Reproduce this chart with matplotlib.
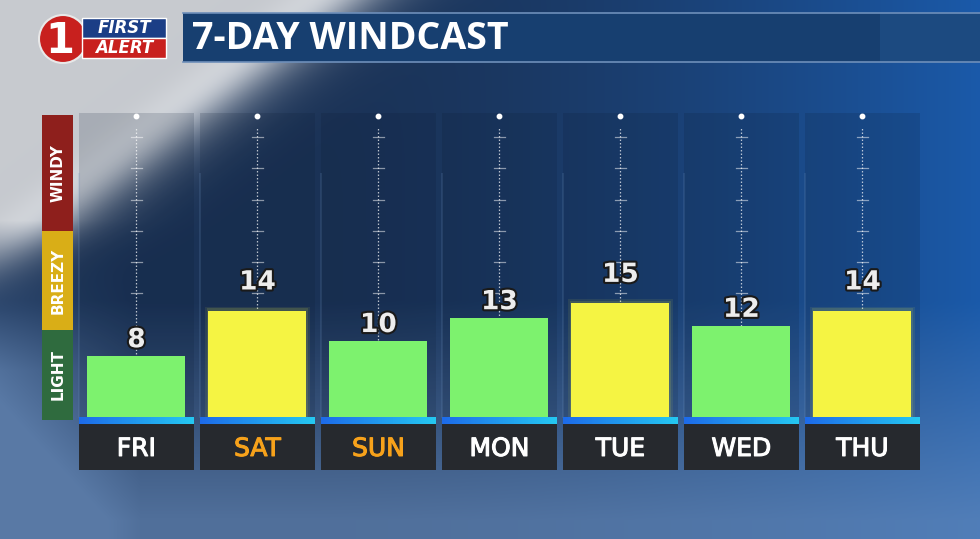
import numpy as np
import matplotlib
matplotlib.use("Agg")
import matplotlib.pyplot as plt
from matplotlib.patches import Rectangle, Circle
import matplotlib.patheffects as pe

# ---------------- data ----------------
days = ["FRI", "SAT", "SUN", "MON", "TUE", "WED", "THU"]
wind = [8, 14, 10, 13, 15, 12, 14]
day_colors = ["white", "#F7A21B", "#F7A21B", "white", "white", "white", "white"]
levels = ["WINDY", "BREEZY", "LIGHT"]
level_colors = ["#8E1F1C", "#D9AE17", "#2F6B3E"]
title = "7-DAY WINDCAST"
breezy_min = 14

W, H = 980, 539
fig = plt.figure(figsize=(W / 100, H / 100), dpi=100)

# ---------------- background (pixel space) ----------------
bg = fig.add_axes([0, 0, 1, 1])
bg.set_xlim(0, W)
bg.set_ylim(H, 0)
bg.axis("off")

yy, xx = np.mgrid[0:H, 0:W].astype(float)
navy = np.array([26, 50, 86]) / 255
blue = np.array([26, 90, 170]) / 255
cloud = np.array([110, 145, 192]) / 255
light = np.array([200, 203, 208]) / 255
white = np.array([245, 245, 245]) / 255

t_right = np.clip((xx - 300) / (W - 300), 0, 1) ** 1.6
base = navy[None, None, :] * (1 - t_right[..., None]) + blue[None, None, :] * t_right[..., None]
t_bot = np.clip((yy - 300) / 220, 0, 1) * 0.65
t_left = np.clip((140 - xx) / 140, 0, 1) * np.clip((yy - 250) / 120, 0, 1) * 0.45
t_c = np.clip(t_bot + t_left, 0, 0.75)
base = base * (1 - t_c[..., None]) + cloud[None, None, :] * t_c[..., None]
# light wedge top-left
d = (xx + 1.29 * yy - 360) / 28.0
wedge = 1 / (1 + np.exp(d))
fade_low = np.clip(1 - (yy - 220) / 90, 0, 1)
wedge = wedge * fade_low
band = np.exp(-((xx + 1.29 * yy - 330) / 45.0) ** 2) * fade_low
lcol = light[None, None, :] * (1 - band[..., None]) + white[None, None, :] * band[..., None]
img = base * (1 - wedge[..., None]) + lcol * wedge[..., None]
bg.imshow(img, extent=[0, W, H, 0], aspect="auto", zorder=0)

# title bar
bg.add_patch(Rectangle((183, 13), W - 183, 49, facecolor="#173F70", edgecolor="none", zorder=2))
bg.add_patch(Rectangle((880, 13), W - 880, 49, facecolor="#1C4A80", edgecolor="none", zorder=2))
bg.plot([183, W], [13, 13], color="#6E8FBA", lw=1.2, zorder=3)
bg.plot([183, W], [62, 62], color="#6E8FBA", lw=1.2, zorder=3)
bg.text(192, 39, title, color="white", fontsize=27, fontweight="bold",
        family="Open Sans", va="center", ha="left", zorder=4)

# logo
bg.add_patch(Circle((63, 39), 24, facecolor="#C8201E", edgecolor="#E8E8E8", lw=1.5, zorder=3))
bg.text(60, 41, "1", color="white", fontsize=30, fontweight="bold", family="DejaVu Sans",
        ha="center", va="center", zorder=4)
bg.add_patch(Rectangle((82, 18), 84, 20, facecolor="#1B3E86", edgecolor="white", lw=1, zorder=3))
bg.add_patch(Rectangle((82, 38), 84, 20, facecolor="#C8201E", edgecolor="white", lw=1, zorder=3))
bg.text(124, 28, "FIRST", color="white", fontsize=12, fontweight="bold", style="italic",
        family="DejaVu Sans", ha="center", va="center", zorder=4)
bg.text(124, 48, "ALERT", color="white", fontsize=12, fontweight="bold", style="italic",
        family="DejaVu Sans", ha="center", va="center", zorder=4)

# level scale on the left
bounds = [(115, 231), (231, 330), (330, 420)]
for (y0, y1), lab, col in zip(bounds, levels, level_colors):
    bg.add_patch(Rectangle((42, y0), 31, y1 - y0, facecolor=col, edgecolor="none", zorder=3))
    bg.text(58, (y0 + y1) / 2, lab, color="white", fontsize=11, fontweight="bold",
            family="DejaVu Sans", rotation=90, ha="center", va="center", zorder=4)

# ---------------- data axes ----------------
scale = 7.6   # px per unit
pitch = 121   # px per category
ylo, yhi = -7.0, 40.0
top_px = 417 - yhi * scale
bot_px = 417 - ylo * scale
left_px = 79 - 0.025 * pitch
ax = fig.add_axes([left_px / W, (H - bot_px) / H, 7 * pitch / W, (bot_px - top_px) / H])
ax.set_xlim(-0.5, len(days) - 0.5)
ax.set_ylim(ylo, yhi)
ax.axis("off")
ax.patch.set_alpha(0)

x = np.arange(len(days))
strip_h = 7 / scale
cm = matplotlib.colors.LinearSegmentedColormap.from_list("s", ["#1D6BEA", "#25C8F2"])
for i in x:
    # column panel
    ax.add_patch(Rectangle((i - 0.475, 0), 0.95, 40.5, facecolor="#0B1A30", alpha=0.16,
                           edgecolor="none", zorder=1))
    ax.plot([i - 0.475, i - 0.475], [0, 32], color="#6F93C0", alpha=0.18, lw=1.5, zorder=1)
    # dotted guide
    ax.plot([i, i], [0, 38.2], color="white", alpha=0.7, lw=0.9, ls=(0, (1.2, 1.6)), zorder=2)
    for ty in 16.3 + 4.1 * np.arange(6):
        ax.plot([i - 0.045, i + 0.045], [ty, ty], color="white", alpha=0.5, lw=0.9, zorder=2)
    ax.plot([i], [39.6], marker="o", ms=3.2, color="white", zorder=3)
    # blue strip with gradient
    grad = np.linspace(0, 1, 64)[None, :]
    ax.imshow(grad, extent=[i - 0.475, i + 0.475, -strip_h, 0], aspect="auto", cmap=cm, zorder=4)
    # label box
    ax.add_patch(Rectangle((i - 0.475, ylo + 0.05), 0.95, -strip_h - ylo - 0.05,
                           facecolor="#26292E", edgecolor="none", zorder=4))
    ax.text(i, -4.2, days[i], color=day_colors[i], fontsize=18, family="DejaVu Sans",
            ha="center", va="center", zorder=5,
            path_effects=[pe.withStroke(linewidth=0.8, foreground=day_colors[i])])

bar_colors = ["#F5F443" if v >= breezy_min else "#7DF26E" for v in wind]
for i, v, c in zip(x, wind, bar_colors):
    if v >= breezy_min:
        for k, a in [(0.5, 0.08), (0.3, 0.12)]:
            ax.add_patch(Rectangle((i - 0.405 - k * 0.05, 0), 0.81 + k * 0.1, v + k,
                                   facecolor="#F5F443", alpha=a, edgecolor="none", zorder=2))
ax.bar(x, wind, width=0.81, color=bar_colors, zorder=3)
for i, v in zip(x, wind):
    off = 3.7 if v >= breezy_min else 2.1
    ax.text(i, v + off, str(v), color="#EDEDED", fontsize=19, fontweight="bold",
            family="DejaVu Sans", ha="center", va="center", zorder=6,
            path_effects=[pe.withStroke(linewidth=3, foreground="#1a1a1a")])

fig.savefig("out.png", dpi=100)
